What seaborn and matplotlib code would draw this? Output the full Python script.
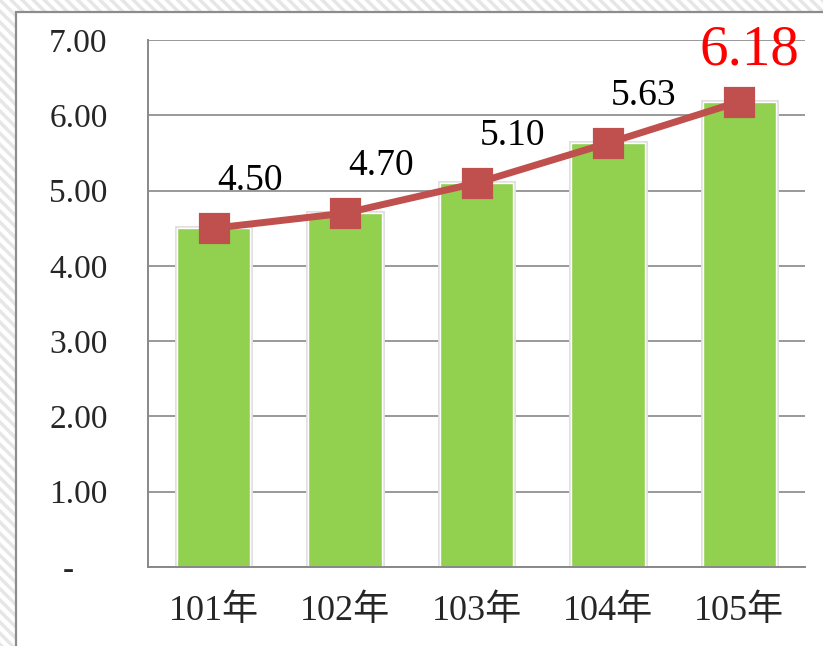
import matplotlib
matplotlib.use("Agg")
import matplotlib.pyplot as plt
import matplotlib.patheffects as pe
from matplotlib.patches import Rectangle
import pandas as pd
import seaborn as sns

years = ["101年", "102年", "103年", "104年", "105年"]
bar_values = [4.50, 4.70, 5.10, 5.63, 6.18]
line_values = [4.50, 4.70, 5.10, 5.63, 6.18]
y_ticks = [0, 1, 2, 3, 4, 5, 6, 7]

BAR_COLOR = "#92D050"
LINE_COLOR = "#C0504D"
GRID_COLOR = "#888888"
FONT = ["Liberation Serif", "Noto Sans CJK TC", "DejaVu Sans"]

sns.set_theme(style="white")
plt.rcParams["font.family"] = FONT
plt.rcParams["hatch.linewidth"] = 2.5

df = pd.DataFrame({"year": years, "bar": bar_values, "line": line_values})

fig = plt.figure(figsize=(8.23, 6.46), dpi=100)
W, H = 823, 646

# hatched background with white chart frame
fig.patches.append(Rectangle((0, 0), 1, 1, transform=fig.transFigure,
                             facecolor="white", edgecolor="#e6e6e6", linewidth=0,
                             hatch="\\\\\\", zorder=-10))
fig.patches.append(Rectangle((16 / W, -0.01), 1.0, (H - 12) / H + 0.01, transform=fig.transFigure,
                             facecolor="white", edgecolor="#8c8c8c", linewidth=1.6, zorder=-9))

ax = fig.add_axes([148 / W, (H - 567) / H, 657 / W, (567 - 40) / H])
ax.set_facecolor("none")

sns.barplot(data=df, x="year", y="bar", color=BAR_COLOR, saturation=1, width=0.56,
            ax=ax, zorder=2)
for patch in ax.patches:
    patch.set_path_effects([pe.Stroke(linewidth=3.5, foreground="#dedede"),
                            pe.Stroke(linewidth=1.0, foreground="white"), pe.Normal()])

sns.pointplot(data=df, x="year", y="line", color=LINE_COLOR, markers="s",
              markersize=19, linewidth=5, ax=ax)
for ln in ax.lines:
    ln.set_zorder(4)

# data labels
for i, v in enumerate(line_values):
    last = i == len(line_values) - 1
    ax.annotate(f"{v:.2f}", (i, v), xytext=(7 if last else 26, 37 if last else 34),
                textcoords="offset points", ha="center", va="center",
                fontsize=41 if last else 27, color="#FF0000" if last else "black",
                family=FONT, zorder=5)

ax.set_ylim(0, 7)
ax.set_xlim(-0.5, 4.5)
ax.set_yticks(y_ticks)
ax.set_yticklabels(["-    "] + [f"{t:.2f}" for t in y_ticks[1:]], fontsize=24, family=FONT)
ax.tick_params(axis="y", length=0, pad=29)
ax.tick_params(axis="x", length=0, pad=20, labelsize=26)
for lbl in ax.get_xticklabels():
    lbl.set_family(FONT)

ax.yaxis.grid(True, color=GRID_COLOR, linewidth=1.2, zorder=0)
ax.set_axisbelow(True)
ax.set_xlabel("")
ax.set_ylabel("")
for side in ["top", "right"]:
    ax.spines[side].set_visible(False)
for side in ["left", "bottom"]:
    ax.spines[side].set_color(GRID_COLOR)
    ax.spines[side].set_linewidth(1.4)

fig.savefig("out.png", dpi=100)
